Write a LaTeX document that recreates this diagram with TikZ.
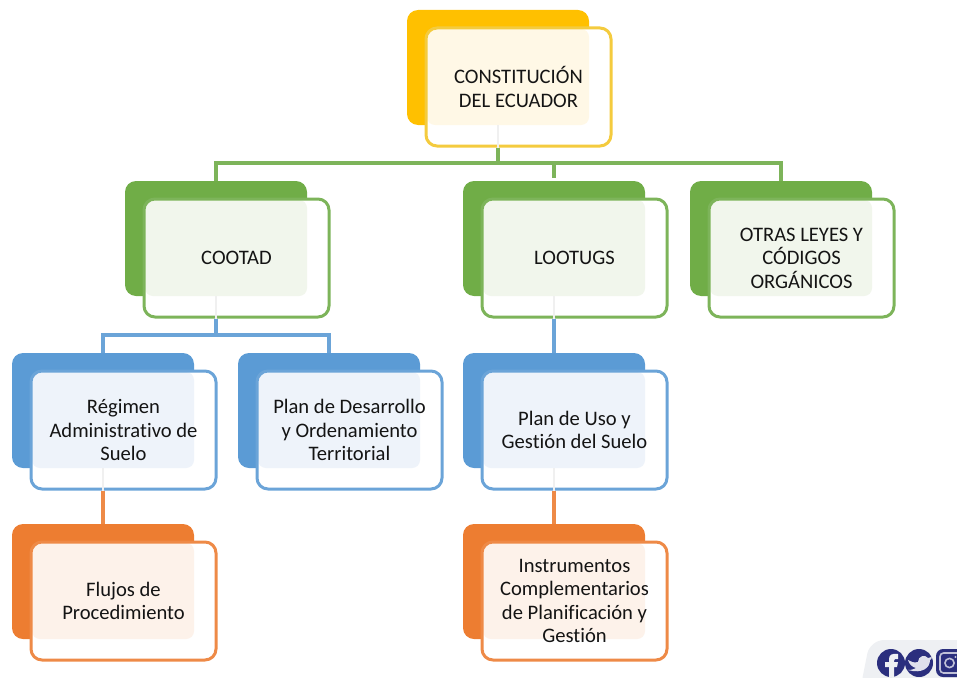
\documentclass[tikz,border=0pt]{standalone}
\usepackage{fontspec}
\setmainfont[Ligatures=NoCommon]{Carlito}
\definecolor{cy}{HTML}{FFC000}\definecolor{ly}{HTML}{F4CB3E}\definecolor{ty}{HTML}{FFF8E6}
\definecolor{cg}{HTML}{70AD47}\definecolor{lg}{HTML}{7DB45A}\definecolor{tg}{HTML}{F1F6EC}
\definecolor{cb}{HTML}{5B9BD5}\definecolor{lb}{HTML}{6BA4D8}\definecolor{tb}{HTML}{EEF3FA}
\definecolor{co}{HTML}{ED7D31}\definecolor{lo}{HTML}{EE8A47}\definecolor{to}{HTML}{FDF2EA}
\definecolor{navy}{HTML}{2B2F7E}\definecolor{pale}{HTML}{EEF0F3}
\tikzset{
  backbox/.style={rounded corners=11pt,inner sep=0pt,draw=none,minimum width=182pt,minimum height=115pt},
  whitebox/.style={rounded corners=11pt,inner sep=0pt,fill=white,minimum width=185pt,minimum height=118pt},
  frontbox/.style={rounded corners=11pt,inner sep=0pt,line width=3pt,align=center,
    font=\fontsize{20.6pt}{23.5pt}\selectfont,text=black!92,minimum width=185pt,minimum height=118pt},
  conn/.style={line width=3.4pt},
  ghost/.style={line width=2.5pt,draw=black!6},
}
\newcommand\setc[3]{\def\cdark{#1}\def\cline{#2}\def\ctint{#3}}
\newcommand\card[4]{%
  \node[backbox,fill=\cdark] (#1b) at (#2+91,#3+57.5) {};
  \node[whitebox] (#1w) at (#2+111.5,#3+77) {};
  \fill[\ctint,rounded corners=8pt] (#2+20,#3+19) -- (#2+182,#3+19) -- (#2+182,#3+115) -- (#2+20,#3+115) -- cycle;
  \node[frontbox,draw=\cline] (#1) at (#2+111.5,#3+77) {#4};
}
\begin{document}
\begin{tikzpicture}[x=1pt,y=-1pt]
\useasboundingbox (0,0) rectangle (957,677);
\setc{cy}{ly}{ty}
\card{con}{407}{10}{CONSTITUCIÓN\\DEL ECUADOR}
\setc{cg}{lg}{tg}
\card{coo}{125}{181}{COOTAD}
\card{loo}{463}{181}{LOOTUGS}
\card{otr}{690}{181}{OTRAS LEYES Y\\CÓDIGOS\\ORGÁNICOS}
\setc{cb}{lb}{tb}
\card{reg}{12}{353}{Régimen\\Administrativo de\\Suelo}
\card{pla}{238}{353}{Plan de Desarrollo\\y Ordenamiento\\Territorial}
\card{uso}{463}{353}{Plan de Uso y\\Gestión del Suelo}
\setc{co}{lo}{to}
\card{flu}{12}{524}{Flujos de\\Procedimiento}
\card{ins}{463}{524}{Instrumentos\\Complementarios\\de Planificación y\\Gestión}
% faint stubs under the front cards
\draw[ghost] (conb.south) -- (conb.south |- con.south);
\draw[ghost] (coob.south) -- (coob.south |- coo.south);
\draw[ghost] (loob.south) -- (loob.south |- loo.south);
\draw[ghost] (regb.south) -- (regb.south |- reg.south);
\draw[ghost] (usob.south) -- (usob.south |- uso.south);
% connectors
\coordinate (bar1) at (498,163);
\coordinate (bar2) at (216.5,335);
\draw[conn,lg] (conb.south |- con.south) -- (conb.south |- bar1);
\draw[conn,lg] (coob.north) |- (bar1) -| (otrb.north);
\draw[conn,lg] (loob.north |- bar1) -- ([yshift=3pt]loob.north);
\draw[conn,lb] (coob.south |- coo.south) -- (coob.south |- bar2);
\draw[conn,lb] (regb.north) |- (bar2) -| (plab.north);
\draw[conn,lb] (loob.south |- loo.south) -- (usob.north);
\draw[conn,lo] (regb.south |- reg.south) -- (flub.north);
\draw[conn,lo] (usob.south |- uso.south) -- (insb.north);
% social badge
\begin{scope}
\clip (0,0) rectangle (957,677);
\fill[pale,rounded corners=14pt] (870,640) -- (975,640) -- (975,690) -- (860,690) -- cycle;
\fill[navy] (891,663) circle (14);
\fill[navy] (919,663) circle (14);
\fill[navy,rounded corners=7pt] (936,649) rectangle (970,677);
\fill[pale] (889,677) -- (889,667) -- (885,667) -- (885,662) -- (889,662) -- (889,659) .. controls (889,655) and (892,653) .. (898,654) -- (898,659) .. controls (895,658.5) and (894,659) .. (894,661) -- (894,662) -- (898,662) -- (897,667) -- (894,667) -- (894,677) -- cycle;
\fill[white!85!navy] (908,660) .. controls (911,662) and (914,663) .. (918,662) .. controls (918,656) and (925,654) .. (928,658) .. controls (930,658) and (931,657) .. (932,656) .. controls (932,658) and (931,660) .. (930,660) .. controls (930,668) and (922,674) .. (908,670) .. controls (912,670) and (914,669) .. (916,668) .. controls (912,667) and (909,664) .. (908,660) -- cycle;
\draw[white!70!navy,line width=1.6pt,rounded corners=3.5pt] (940,653) rectangle (960,673);
\draw[white!70!navy,line width=1.6pt] (949.5,663) circle (4.6);
\fill[white!70!navy] (955.5,657) circle (1.2);
\end{scope}
\end{tikzpicture}
\end{document}
